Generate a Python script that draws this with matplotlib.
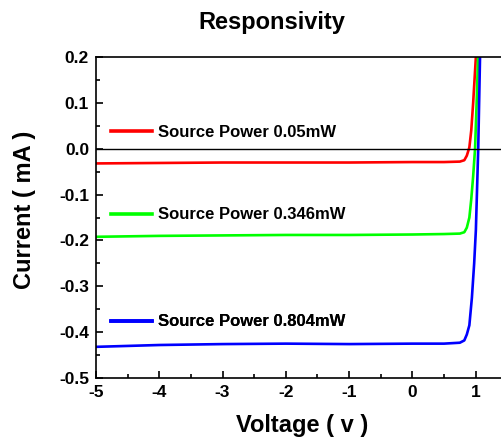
import matplotlib
matplotlib.use('Agg')
import matplotlib.pyplot as plt
from matplotlib.ticker import MultipleLocator

plt.rcParams['font.family'] = ['Liberation Sans', 'DejaVu Sans']
plt.rcParams['font.weight'] = 'bold'
plt.rcParams['axes.unicode_minus'] = False

# I-V curves (Voltage in V, Current in mA)
v_red = [-5, -4, -3, -2, -1, 0, 0.5, 0.75, 0.82, 0.86, 0.9, 0.93, 0.96, 0.99, 1.02]
i_red = [-0.032, -0.031, -0.030, -0.030, -0.030, -0.029, -0.029, -0.028, -0.025,
         -0.015, 0.003, 0.04, 0.10, 0.17, 0.24]

v_green = [-5, -4, -3, -2, -1, 0, 0.5, 0.75, 0.82, 0.86, 0.9, 0.93, 0.96, 0.99, 1.02, 1.05]
i_green = [-0.192, -0.190, -0.189, -0.188, -0.188, -0.187, -0.186, -0.185, -0.182,
           -0.172, -0.150, -0.110, -0.060, 0.0, 0.12, 0.26]

v_blue = [-5, -4, -3, -2, -1, 0, 0.5, 0.75, 0.82, 0.86, 0.9, 0.94, 0.976, 1.003, 1.04, 1.07]
i_blue = [-0.432, -0.428, -0.426, -0.425, -0.426, -0.425, -0.425, -0.423, -0.418,
          -0.405, -0.385, -0.325, -0.25, -0.177, 0.0, 0.21]

labels = ['Source Power 0.05mW', 'Source Power 0.346mW', 'Source Power 0.804mW']
colors = ['#ff0000', '#00ff00', '#0000ff']

fig = plt.figure(figsize=(5.01, 4.44), dpi=100)
ax = fig.add_axes([0.1916, 0.1486, 0.8084, 0.7229])

series = [(v_red, i_red), (v_green, i_green), (v_blue, i_blue)]
lines = []
for (v, i), c in zip(series, colors):
    ln, = ax.plot(v, i, color=c, linewidth=1.9)
    lines.append(ln)

ax.axhline(0, color='black', linewidth=1)

ax.set_xlim(-5, 1.4)
ax.set_ylim(-0.5, 0.2)
ax.xaxis.set_major_locator(MultipleLocator(1))
ax.xaxis.set_minor_locator(MultipleLocator(0.5))
ax.yaxis.set_major_locator(MultipleLocator(0.1))
ax.yaxis.set_minor_locator(MultipleLocator(0.05))
ax.yaxis.set_major_formatter(plt.FuncFormatter(lambda y, p: f'{y:.1f}'))
ax.tick_params(which='both', direction='in', top=False, right=False, labelsize=12.5)
ax.tick_params(which='major', length=5, width=1.2)
ax.tick_params(which='minor', length=3, width=1.2)
ax.tick_params(axis='y', pad=5)
ax.tick_params(axis='x', pad=5)
for lab in ax.get_xticklabels() + ax.get_yticklabels():
    lab.set_fontweight('bold')
ax.spines['right'].set_visible(False)
for s in ['left', 'bottom', 'top']:
    ax.spines[s].set_linewidth(1.2)

# one legend next to each curve
leg_y = [0.766, 0.508, 0.175]
for ln, lab, y in zip(lines, labels, leg_y):
    leg = ax.legend([ln], [lab], loc='center left', bbox_to_anchor=(0.038, y),
                    frameon=False, borderpad=0, borderaxespad=0,
                    handlelength=2.45, handletextpad=0.33,
                    prop={'weight': 'bold', 'size': 12})
    leg.get_lines()[0].set_linewidth(2.6)
    ax.add_artist(leg)

ax.set_xlabel('Voltage ( v )', fontsize=17, fontweight='bold')
ax.xaxis.set_label_coords(0.509, -0.112)
ax.set_ylabel('Current ( mA )', fontsize=17, fontweight='bold')
ax.yaxis.set_label_coords(-0.148, 0.523)
fig.text(272 / 501, 1 - 22 / 444, 'Responsivity', ha='center', va='center',
         fontsize=17, fontweight='bold')

fig.savefig('out.png', dpi=100)
